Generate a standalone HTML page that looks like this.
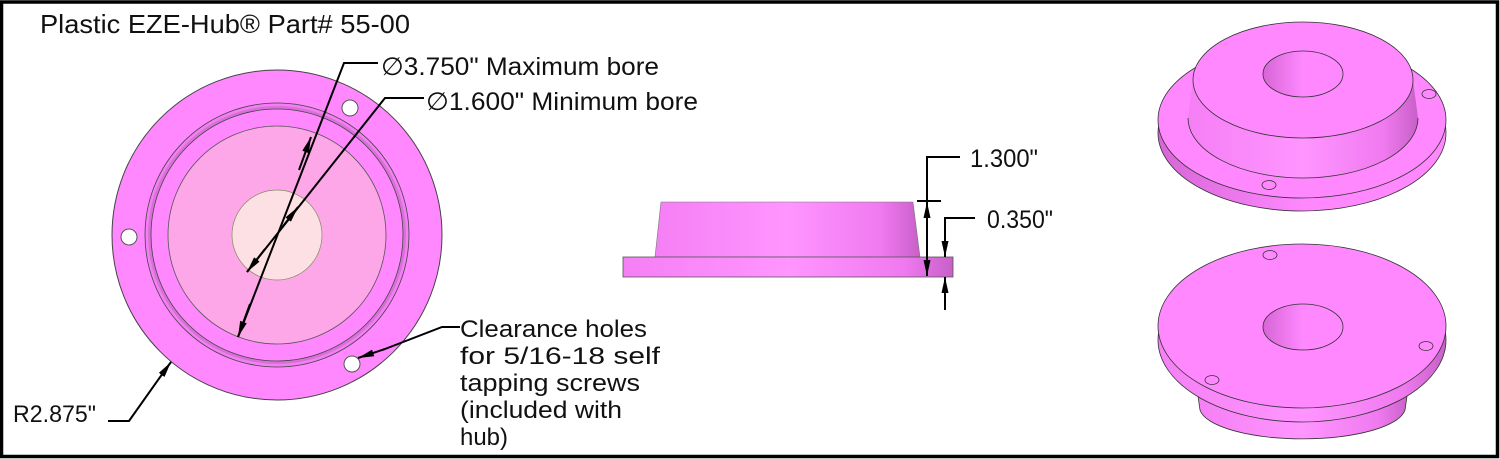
<!DOCTYPE html>
<html><head><meta charset="utf-8"><style>
html,body{margin:0;padding:0;background:#fff}
svg{display:block}
text{font-family:"Liberation Sans",sans-serif;fill:#111}
</style></head><body>
<svg width="1500" height="459" viewBox="0 0 1500 459" xmlns="http://www.w3.org/2000/svg">
<defs>
<marker id="ah" viewBox="0 0 16 7" refX="16" refY="3.5" markerWidth="16" markerHeight="7" markerUnits="userSpaceOnUse" orient="auto-start-reverse">
<path d="M0,0 L16,3.5 L0,7 z" fill="#000"/></marker>
<linearGradient id="g1" x1="0" x2="1" y1="0" y2="0">
<stop offset="0" stop-color="#f57ff5"/><stop offset="0.5" stop-color="#ff95ff"/><stop offset="0.85" stop-color="#f07af0"/><stop offset="1" stop-color="#c860c8"/></linearGradient>
<linearGradient id="g2" x1="0" x2="1"><stop offset="0" stop-color="#d765d7"/><stop offset="0.5" stop-color="#ff88ff"/><stop offset="1" stop-color="#ff88ff"/></linearGradient>
</defs>
<rect x="1.5" y="2" width="1496" height="454.5" fill="#fff" stroke="#000" stroke-width="3.5"/>

<text x="40" y="33" font-size="26" textLength="370" lengthAdjust="spacingAndGlyphs">Plastic EZE-Hub® Part# 55-00</text>

<!-- front view -->
<circle cx="277" cy="235" r="165" fill="#ff88ff" stroke="#444" stroke-width="1"/>
<circle cx="277" cy="235" r="132" fill="#f47ef4" stroke="#444" stroke-width="0.8"/>
<circle cx="277" cy="235" r="129" fill="#d870d8" stroke="none"/>
<circle cx="277" cy="235" r="126" fill="#ff88ff" stroke="#444" stroke-width="0.8"/>
<circle cx="277" cy="235" r="109" fill="#fda6e8" stroke="#555" stroke-width="0.8"/>
<circle cx="277" cy="235" r="45" fill="#fde0e4" stroke="#886" stroke-width="0.7"/>
<circle cx="129" cy="237" r="8" fill="#fff" stroke="#555"/>
<circle cx="350" cy="108" r="8" fill="#fff" stroke="#555"/>
<circle cx="352" cy="364" r="8" fill="#fff" stroke="#555"/>

<g stroke="#000" stroke-width="2" fill="none">
<polyline points="378,63 344,63 238,337"/>
<line x1="250" y1="304" x2="238" y2="337" marker-end="url(#ah)"/>
<line x1="311" y1="137" x2="299" y2="170" marker-start="url(#ah)"/>
<polyline points="424,98 385,98 247,272"/>
<line x1="265" y1="249" x2="247" y2="272" marker-end="url(#ah)"/>
<line x1="280" y1="230" x2="298" y2="207" marker-end="url(#ah)"/>
<polyline points="460,327 442,327 385,349"/>
<line x1="385" y1="349" x2="358" y2="358" marker-end="url(#ah)"/>
<polyline points="108,421 129,421 158,380"/>
<line x1="158" y1="380" x2="171" y2="362" marker-end="url(#ah)"/>
</g>
<text x="381" y="75" font-size="25" textLength="278" lengthAdjust="spacingAndGlyphs">∅3.750"  Maximum bore</text>
<text x="426" y="110" font-size="25" textLength="272" lengthAdjust="spacingAndGlyphs">∅1.600"  Minimum bore</text>
<text x="13" y="422" font-size="24" textLength="83" lengthAdjust="spacingAndGlyphs">R2.875"</text>
<g font-size="24">
<text x="460" y="337" textLength="187" lengthAdjust="spacingAndGlyphs">Clearance holes</text>
<text x="460" y="364" textLength="200" lengthAdjust="spacingAndGlyphs">for 5/16-18 self</text>
<text x="460" y="391" textLength="180" lengthAdjust="spacingAndGlyphs">tapping screws</text>
<text x="460" y="418" textLength="162" lengthAdjust="spacingAndGlyphs">(included with</text>
<text x="460" y="445" textLength="48" lengthAdjust="spacingAndGlyphs">hub)</text>
</g>

<!-- side view -->
<polygon points="661,202 913,202 920,257 655,257" fill="url(#g1)" stroke="#777" stroke-width="0.6"/>
<rect x="623" y="257" width="330" height="20" fill="url(#g1)" stroke="#555" stroke-width="0.8"/>
<g stroke="#000" stroke-width="2" fill="none">
<polyline points="960,157 927,157 927,201"/>
<line x1="917" y1="201" x2="941" y2="201"/>
<line x1="927" y1="230" x2="927" y2="202" marker-end="url(#ah)"/>
<line x1="927" y1="230" x2="927" y2="276" marker-end="url(#ah)"/>
<polyline points="975,218 945,218 945,235"/>
<line x1="945" y1="235" x2="945" y2="257" marker-end="url(#ah)"/>
<line x1="945" y1="310" x2="945" y2="277" marker-end="url(#ah)"/>
</g>
<text x="970" y="167" font-size="25" textLength="68" lengthAdjust="spacingAndGlyphs">1.300"</text>
<text x="987" y="228" font-size="25" textLength="66" lengthAdjust="spacingAndGlyphs">0.350"</text>

<!-- iso top -->
<g stroke="#333" stroke-width="0.8">
<ellipse cx="1302" cy="133" rx="144" ry="78" fill="url(#g2)"/>
<ellipse cx="1302" cy="120" rx="144" ry="78" fill="#ff88ff"/>
<path d="M1193,80 L1188,118 A115,60 0 0 0 1418,118 L1413,80 Z" fill="url(#g1)" stroke="none"/>
<path d="M1188,118 A115,60 0 0 0 1418,118" fill="none"/>
<ellipse cx="1303" cy="80" rx="110" ry="58" fill="#ff88ff"/>
<ellipse cx="1303" cy="74" rx="40" ry="23" fill="url(#g2)"/>
<ellipse cx="1429" cy="94" rx="7" ry="4.5" fill="#ff88ff"/>
<ellipse cx="1269" cy="185" rx="7" ry="4.5" fill="#ff88ff"/>
</g>
<!-- iso bottom -->
<g stroke="#333" stroke-width="0.8">
<path d="M1195,375 L1200,410 A103,32 0 0 0 1405,410 L1410,375 Z" fill="url(#g1)"/>
<ellipse cx="1302" cy="340" rx="144" ry="82" fill="url(#g1)"/>
<ellipse cx="1302" cy="326" rx="144" ry="82" fill="#ff88ff"/>
<ellipse cx="1303" cy="327" rx="40" ry="23" fill="url(#g2)"/>
<ellipse cx="1270" cy="255" rx="7" ry="4.5" fill="#ff88ff"/>
<ellipse cx="1426" cy="346" rx="7" ry="4.5" fill="#ff88ff"/>
<ellipse cx="1212" cy="380" rx="7" ry="4.5" fill="#ff88ff"/>
</g>
</svg>
</body></html>
